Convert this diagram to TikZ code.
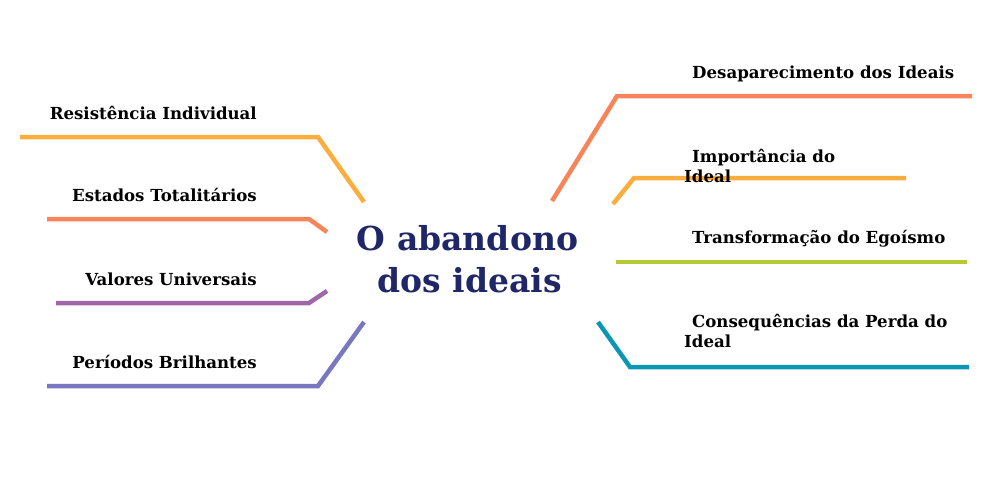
\documentclass[tikz,border=0pt]{standalone}
\usepackage{fontspec}
\setmainfont{DejaVu Serif}
\definecolor{corange}{HTML}{FBAE3E}
\definecolor{csalmon}{HTML}{F8845A}
\definecolor{cpurple}{HTML}{A066A8}
\definecolor{cslate}{HTML}{7A77C1}
\definecolor{cgreen}{HTML}{B7C934}
\definecolor{cteal}{HTML}{0B96B5}
\definecolor{cnavy}{HTML}{1F2769}
\tikzset{
  branch/.style={line width=4.5pt, line join=miter},
  lbl/.style={font=\bfseries\fontsize{16.6}{20}\selectfont, inner sep=0pt, text=black},
  title/.style={font=\bfseries\fontsize{33}{42}\selectfont, text=cnavy, align=center, inner sep=0pt}
}
\begin{document}
\begin{tikzpicture}[x=1pt,y=-1pt]
\useasboundingbox (0,0) rectangle (983,477);
% center
\node[title,anchor=base] (c) at (467.5,250) {O abandono};
\node[title,anchor=base] (c2) at (469.5,292) {dos ideais};
% left branches
\coordinate (l1a) at (20,137); \coordinate (l1b) at (318,137); \coordinate (l1c) at (364,202);
\coordinate (l2a) at (47,219); \coordinate (l2b) at (309,219); \coordinate (l2c) at (327,232);
\coordinate (l3a) at (56,303); \coordinate (l3b) at (309,303); \coordinate (l3c) at (327,291);
\coordinate (l4a) at (47,386); \coordinate (l4b) at (318,386); \coordinate (l4c) at (364,322);
\draw[branch,corange] (l1a) -- (l1b) -- (l1c);
\draw[branch,csalmon] (l2a) -- (l2b) -- (l2c);
\draw[branch,cpurple] (l3a) -- (l3b) -- (l3c);
\draw[branch,cslate] (l4a) -- (l4b) -- (l4c);
% right branches
\coordinate (r1a) at (552,201); \coordinate (r1b) at (617,96); \coordinate (r1c) at (972,96);
\coordinate (r2a) at (613,204); \coordinate (r2b) at (634,178); \coordinate (r2c) at (906,178);
\coordinate (r3a) at (616,262); \coordinate (r3c) at (967,262);
\coordinate (r4a) at (598,322); \coordinate (r4b) at (630,367); \coordinate (r4c) at (969,367);
\draw[branch,csalmon] (r1a) -- (r1b) -- (r1c);
\draw[branch,corange] (r2a) -- (r2b) -- (r2c);
\draw[branch,cgreen] (r3a) -- (r3c);
\draw[branch,cteal] (r4a) -- (r4b) -- (r4c);
% left labels
\node[lbl,anchor=base east] (t1) at (257,119) {Resistência Individual};
\node[lbl,anchor=base east] (t2) at (257,201) {Estados Totalitários};
\node[lbl,anchor=base east] (t3) at (257,285) {Valores Universais};
\node[lbl,anchor=base east] (t4) at (257,368) {Períodos Brilhantes};
% right labels
\node[lbl,anchor=base west] (u1) at (692,78) {Desaparecimento dos Ideais};
\node[lbl,anchor=base west] (u2a) at (692,162) {Importância do};
\node[lbl,anchor=base west] (u2b) at (684,182) {Ideal};
\node[lbl,anchor=base west] (u3) at (692,243) {Transformação do Egoísmo};
\node[lbl,anchor=base west] (u4a) at (692,327) {Consequências da Perda do};
\node[lbl,anchor=base west] (u4b) at (684,347) {Ideal};
\end{tikzpicture}
\end{document}
